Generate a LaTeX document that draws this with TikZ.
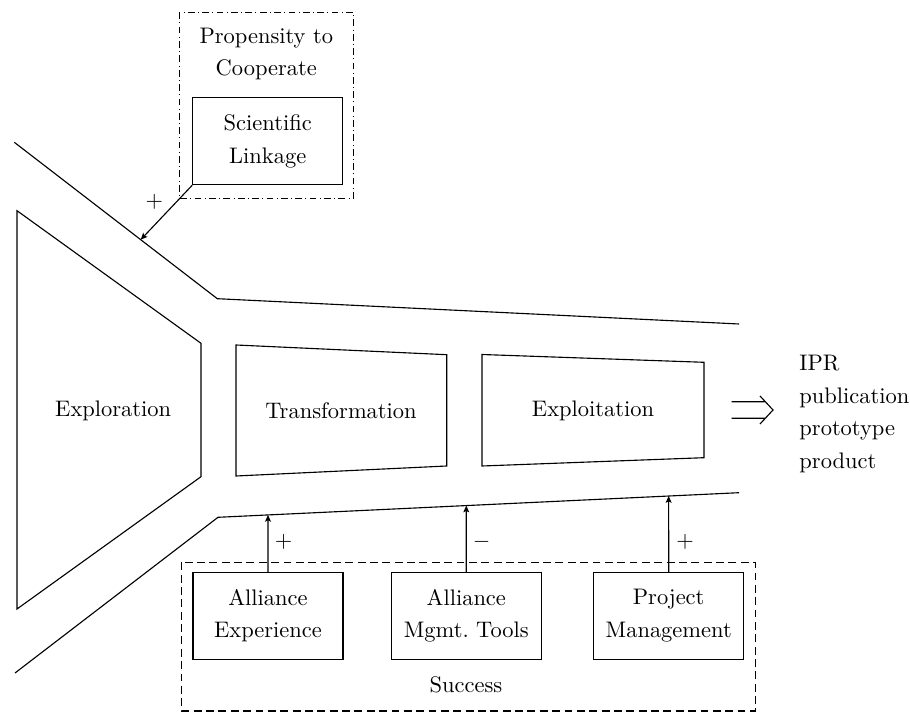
\documentclass[tikz,border=0pt]{standalone}
\usetikzlibrary{calc,arrows.meta}
\begin{document}
\begin{tikzpicture}[x=0.445pt,y=-0.445pt,
  txt/.style={inner sep=0pt, align=center, font=\fontsize{10}{14.4}\selectfont},
  wall/.style={line width=0.5pt},
  factorbox/.style={draw, line width=0.5pt, minimum width=66.75pt, minimum height=38.7pt,
    inner sep=0pt, align=center, font=\fontsize{10}{14.4}\selectfont},
  influence/.style={-{Stealth[length=3pt,width=2.6pt,inset=0.6pt]}, line width=0.5pt},
  groupdashed/.style={line width=0.5pt, dash pattern=on 3.5pt off 2pt},
  groupdashdot/.style={line width=0.5pt, dash pattern=on 3pt off 1.5pt on 0.4pt off 1.5pt}]
\useasboundingbox (0,0) rectangle (910,713);

% funnel walls
\coordinate (ua) at (14.3,142.3);
\coordinate (ub) at (217.3,298.7);
\coordinate (uc) at (739,324);
\coordinate (la) at (15,673);
\coordinate (lb) at (218,517.3);
\coordinate (lc) at (739,492.7);
\draw[wall] (ua) -- (ub) -- (uc);
\draw[wall] (la) -- (lb) -- (lc);

% phases
\draw[wall] (17,210.7) -- (201,343.3) -- (201,476.7) -- (17,609) -- cycle;
\node[txt] (explor) at (113.2,411) {Exploration};
\draw[wall] (236,345) -- (446.7,354.7) -- (446.7,466) -- (236,476) -- cycle;
\node[txt] (transf) at (341,411) {Transformation};
\draw[wall] (482,354.5) -- (704,362.3) -- (704,457.7) -- (482,466) -- cycle;
\node[txt] (exploit) at (593,411) {Exploitation};

% outputs
\draw[wall] (731.7,401.7) -- (765.3,401.7)
            (731.7,418.3) -- (765.3,418.3)
            (760,396) -- (773,410) -- (760,424);
\node[txt, align=left, anchor=west] (out) at (799,414) {IPR\\publication\\prototype\\product};

% propensity to cooperate
\draw[groupdashdot] (179.3,12.3) rectangle (353.3,198.3);
\node[txt] (ptc) at (266.3,54) {Propensity to\\Cooperate};
\node[factorbox] (sl) at (267.7,141.3) {Scientific\\Linkage};
\coordinate (slhit) at ($(ua)!0.6227!(ub)$);
\draw[influence] (sl.south west) -- (slhit);
\node[txt] (slsign) at (154.3,201.7) {$+$};

% success
\draw[groupdashed] (181.8,562.3) rectangle (755.3,711);
\node[factorbox] (ae) at (268,615.8) {Alliance\\Experience};
\node[factorbox] (amt) at (466.3,615.8) {Alliance\\Mgmt.\ Tools};
\node[factorbox] (pm) at (668.7,615.8) {Project\\Management};
\node[txt] (succ) at (466,685) {Success};
\draw[influence] (ae.north) -- (intersection of ae.north--ae.south and lb--lc);
\draw[influence] (amt.north) -- (intersection of amt.north--amt.south and lb--lc);
\draw[influence] (pm.north) -- (intersection of pm.north--pm.south and lb--lc);
\node[txt] (aesign) at (283.6,541.7) {$+$};
\node[txt] (amtsign) at (481.5,541.7) {$-$};
\node[txt] (pmsign) at (685,541.7) {$+$};
\end{tikzpicture}
\end{document}
